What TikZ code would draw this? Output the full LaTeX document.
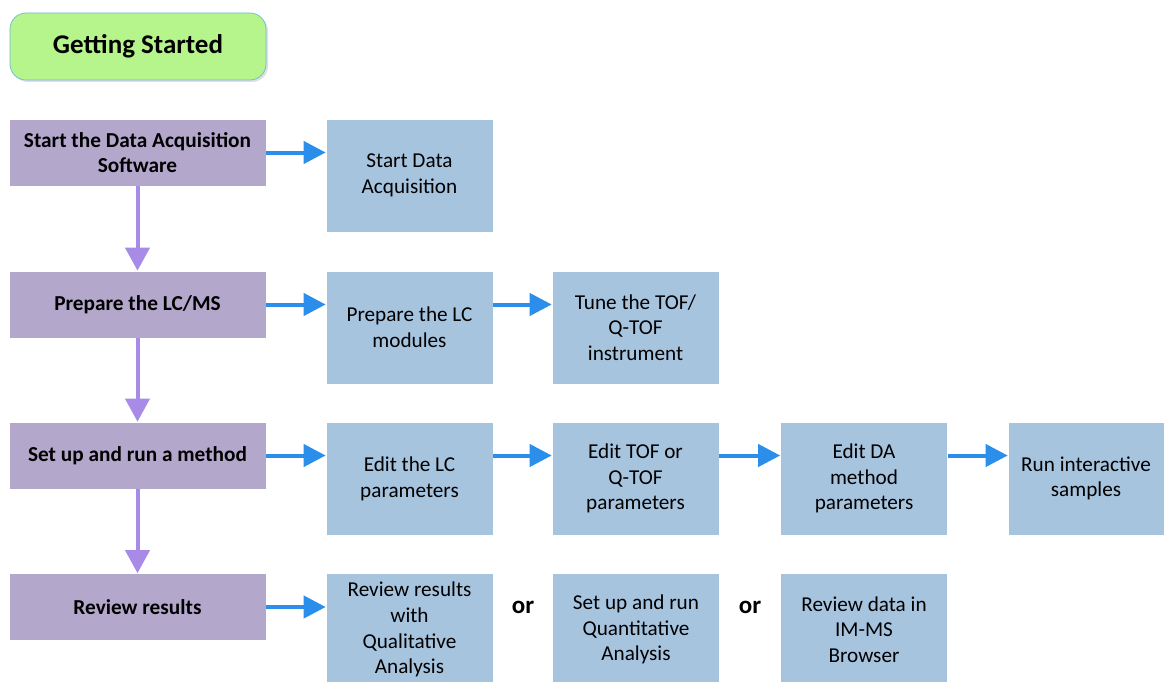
\documentclass[tikz,border=0pt]{standalone}
\usepackage{fontspec}
\setmainfont{Carlito}
\usetikzlibrary{arrows.meta,shadows}
\definecolor{pfill}{HTML}{B4A7CC}
\definecolor{bfill}{HTML}{A7C4DF}
\definecolor{gfill}{HTML}{B5F58C}
\definecolor{gborder}{HTML}{6FB8D8}
\definecolor{barrow}{HTML}{2A8EEA}
\definecolor{parrow}{HTML}{A88BE6}
\tikzset{
  pbox/.style={fill=pfill, draw=white, line width=0.6pt, minimum width=257pt, minimum height=67pt,
    align=center, inner sep=0pt, font=\fontsize{21.3}{25.5}\selectfont\bfseries},
  bbox/.style={fill=bfill, draw=white, line width=0.6pt, minimum width=167pt, minimum height=113pt,
    align=center, inner sep=0pt, font=\fontsize{21.2}{25.7}\selectfont},
  harrow/.style={draw=barrow, line width=4pt, -{Triangle[length=22pt,width=22pt]}, shorten >=0pt},
  varrow/.style={draw=parrow, line width=4pt, -{Triangle[length=23pt,width=24pt]}},
  ortext/.style={font=\fontsize{25}{28}\selectfont\bfseries, inner sep=0pt}
}
\begin{document}
\begin{tikzpicture}[x=1pt,y=-1pt]
\useasboundingbox (0,0) rectangle (1164,682);
% title
\node[fill=gfill, draw=gborder, line width=0.7pt, rounded corners=16pt, minimum width=256pt, minimum height=67pt,
  drop shadow={shadow xshift=2pt, shadow yshift=-2pt, opacity=0.25},
  font=\fontsize{27}{30}\selectfont\bfseries] (title) at (138,46.5) {Getting Started};
% left column
\node[pbox] (s1) at (137.5,152.5) {Start the Data Acquisition\\Software};
\node[pbox] (s2) at (137.5,304.5) {Prepare the LC/MS};
\node[pbox] (s3) at (137.5,455.5) {Set up and run a method};
\node[pbox] (s4) at (137.5,607) {Review results};
% right boxes
\node[bbox] (sda) at (409.5,175.5) {Start Data\\Acquisition};
\node[bbox] (plc) at (409.5,327.5) {Prepare the LC\\modules};
\node[bbox] (tune) at (635.5,327.5) {Tune the TOF/\\Q-TOF\\instrument};
\node[bbox] (elc) at (409.5,478.5) {Edit the LC\\parameters};
\node[bbox] (etof) at (635.5,478.5) {Edit TOF or\\Q-TOF\\parameters};
\node[bbox] (eda) at (864,478.5) {Edit DA\\method\\parameters};
\node[bbox, minimum width=156pt] (run) at (1086,478.5) {Run interactive\\samples};
\node[bbox] (rr) at (409.5,629.5) {Review results\\with\\Qualitative\\Analysis};
\node[bbox] (quant) at (636,629.5) {Set up and run\\Quantitative\\Analysis};
\node[bbox] (imms) at (864,629.5) {Review data in\\IM-MS\\Browser};
% or labels
\node[ortext] (or1) at (523,607) {or};
\node[ortext] (or2) at (750,607) {or};
% vertical arrows
\draw[varrow] (s1.south) -- (s2.north);
\draw[varrow] (s2.south) -- (s3.north);
\draw[varrow] (s3.south) -- (s4.north);
% horizontal arrows
\draw[harrow] (s1.east) -- (s1.east -| sda.west);
\draw[harrow] (s2.east) -- (s2.east -| plc.west);
\draw[harrow] (plc.east |- s2.east) -- (tune.west |- s2.east);
\draw[harrow] (s3.east) -- (s3.east -| elc.west);
\draw[harrow] (elc.east |- s3.east) -- (etof.west |- s3.east);
\draw[harrow] (etof.east |- s3.east) -- (eda.west |- s3.east);
\draw[harrow] (eda.east |- s3.east) -- (run.west |- s3.east);
\draw[harrow] (s4.east) -- (s4.east -| rr.west);
\end{tikzpicture}
\end{document}
